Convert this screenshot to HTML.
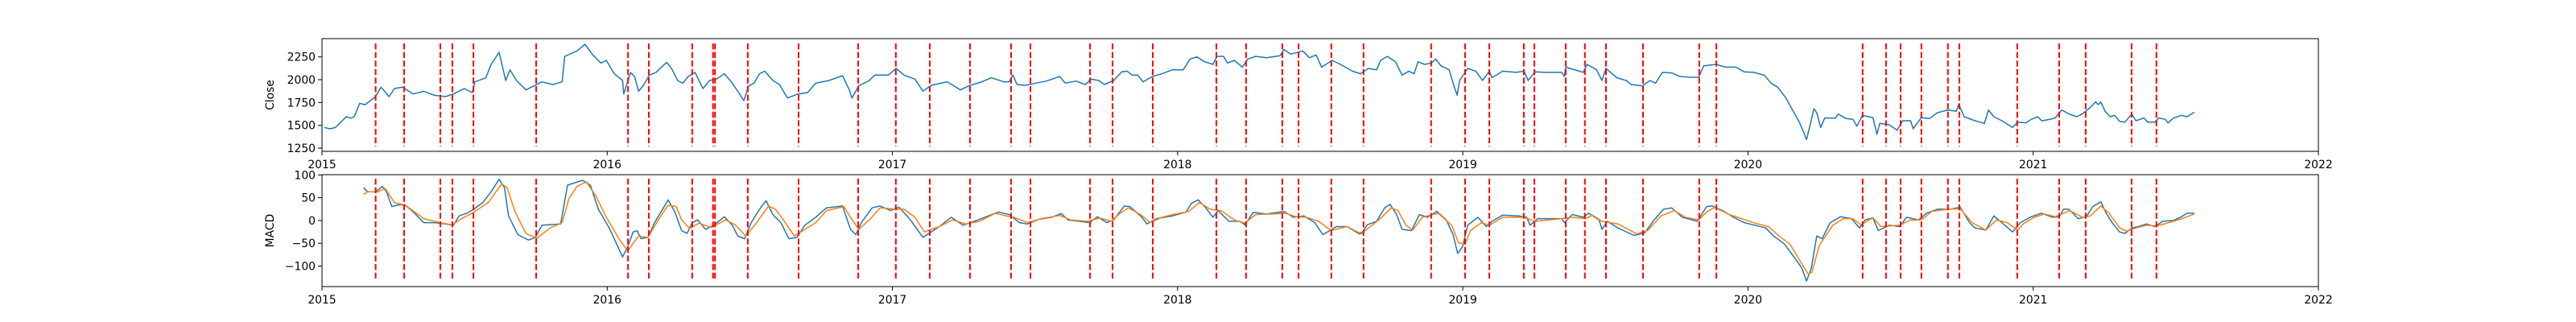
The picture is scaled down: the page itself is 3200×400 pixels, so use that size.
<!DOCTYPE html>
<html><head><meta charset="utf-8">
<style>
html,body{margin:0;padding:0;background:#fff;}
svg{display:block;font-family:"DejaVu Sans","Liberation Sans",sans-serif;}
</style></head>
<body>
<svg id="chart" width="3200" height="400" viewBox="0 0 3200 400" xmlns="http://www.w3.org/2000/svg"></svg>
<script>
// years since 2015-01-01
const closeT = [0.009,0.028,0.047,0.066,0.085,0.103,0.113,0.132,0.151,0.188,0.207,0.235,0.254,0.282,0.320,0.357,0.395,0.433,0.461,0.499,0.527,0.536,0.574,0.593,0.621,0.644,0.659,0.682,0.715,0.743,0.771,0.809,0.842,0.851,0.894,0.922,0.950,0.978,0.997,1.025,1.054,1.058,1.082,1.096,1.110,1.129,1.148,1.171,1.190,1.209,1.228,1.247,1.265,1.284,1.308,1.336,1.359,1.383,1.411,1.435,1.458,1.479,1.496,1.515,1.534,1.552,1.581,1.604,1.632,1.670,1.703,1.731,1.778,1.825,1.849,1.858,1.882,1.919,1.938,1.985,2.013,2.041,2.079,2.107,2.136,2.192,2.239,2.267,2.314,2.347,2.390,2.409,2.423,2.437,2.465,2.503,2.540,2.587,2.606,2.644,2.677,2.696,2.724,2.743,2.776,2.804,2.823,2.841,2.860,2.879,2.912,2.945,2.982,3.020,3.044,3.067,3.095,3.124,3.138,3.161,3.175,3.199,3.227,3.246,3.274,3.312,3.359,3.373,3.397,3.439,3.462,3.486,3.505,3.542,3.571,3.613,3.641,3.669,3.698,3.712,3.735,3.764,3.787,3.811,3.829,3.843,3.867,3.890,3.905,3.923,3.952,3.969,3.980,3.989,4.017,4.046,4.069,4.093,4.102,4.140,4.187,4.215,4.229,4.253,4.290,4.347,4.356,4.361,4.422,4.436,4.469,4.488,4.502,4.540,4.573,4.591,4.629,4.657,4.676,4.700,4.732,4.761,4.798,4.827,4.845,4.888,4.921,4.958,4.987,5.020,5.057,5.081,5.104,5.133,5.156,5.180,5.194,5.205,5.217,5.231,5.241,5.255,5.269,5.307,5.316,5.344,5.368,5.382,5.401,5.438,5.452,5.462,5.495,5.523,5.542,5.570,5.579,5.608,5.636,5.664,5.702,5.730,5.739,5.758,5.796,5.829,5.843,5.862,5.890,5.927,5.946,5.974,5.993,6.016,6.030,6.059,6.077,6.092,6.101,6.125,6.153,6.172,6.200,6.219,6.228,6.237,6.252,6.270,6.285,6.303,6.322,6.346,6.360,6.388,6.402,6.426,6.440,6.463,6.473,6.492,6.520,6.539,6.565];
const closeV = [1476,1462,1476,1535,1594,1579,1594,1741,1726,1815,1918,1815,1903,1918,1844,1873,1829,1815,1844,1903,1859,1976,2020,2168,2300,1991,2108,1991,1888,1932,1976,1947,1976,2256,2315,2388,2270,2182,2212,2065,1991,1844,2079,2035,1873,1947,2050,2080,2138,2191,2109,1991,1962,2035,2080,1903,1991,2006,2065,1977,1874,1771,1932,1962,2065,2094,1991,1947,1800,1844,1859,1962,1991,2044,1888,1800,1932,1991,2050,2050,2124,2050,2006,1874,1938,1977,1888,1932,1977,2021,1977,1977,2050,1947,1938,1962,1985,2035,1962,1985,1947,2006,1991,1947,1991,2086,2094,2050,2050,1977,2035,2065,2109,2109,2227,2250,2197,2168,2256,2256,2183,2212,2138,2227,2256,2241,2262,2330,2280,2315,2241,2271,2138,2212,2168,2094,2065,2124,2109,2212,2256,2197,2050,2094,2065,2197,2168,2183,2227,2153,2109,1932,1830,1991,2124,2094,1991,2094,2021,2094,2080,2094,1991,2086,2080,2080,2035,2138,2080,2168,2109,1991,2124,2021,1991,1947,1932,1991,1962,2080,2074,2035,2027,2027,2153,2168,2138,2138,2086,2080,2050,1962,1918,1800,1668,1535,1432,1344,1491,1682,1638,1476,1580,1580,1624,1574,1565,1491,1609,1585,1403,1521,1506,1447,1550,1550,1462,1585,1574,1638,1668,1653,1732,1594,1550,1521,1668,1594,1550,1477,1535,1527,1565,1594,1550,1565,1580,1638,1668,1624,1594,1624,1697,1756,1727,1756,1653,1594,1609,1544,1535,1624,1550,1580,1535,1535,1580,1565,1527,1580,1609,1594,1644];
const macdT = [0.146,0.160,0.188,0.212,0.226,0.245,0.273,0.292,0.320,0.357,0.395,0.433,0.461,0.480,0.508,0.532,0.564,0.593,0.621,0.640,0.654,0.687,0.724,0.748,0.771,0.837,0.861,0.913,0.941,0.969,1.007,1.054,1.072,1.091,1.105,1.119,1.143,1.166,1.214,1.237,1.261,1.280,1.298,1.317,1.345,1.374,1.411,1.439,1.458,1.482,1.505,1.534,1.557,1.581,1.609,1.637,1.665,1.693,1.731,1.769,1.825,1.853,1.872,1.891,1.929,1.957,1.994,2.023,2.060,2.107,2.136,2.173,2.206,2.248,2.286,2.324,2.371,2.409,2.446,2.474,2.512,2.559,2.592,2.616,2.653,2.691,2.719,2.752,2.776,2.813,2.832,2.870,2.893,2.926,2.982,3.030,3.048,3.072,3.095,3.124,3.142,3.180,3.218,3.236,3.265,3.312,3.373,3.406,3.443,3.481,3.509,3.557,3.594,3.637,3.646,3.665,3.698,3.726,3.745,3.768,3.787,3.820,3.848,3.876,3.909,3.942,3.966,3.982,3.999,4.017,4.053,4.083,4.102,4.140,4.196,4.224,4.236,4.262,4.347,4.356,4.384,4.422,4.441,4.478,4.488,4.507,4.544,4.601,4.638,4.667,4.704,4.732,4.770,4.822,4.855,4.874,4.911,4.949,4.987,5.025,5.062,5.090,5.128,5.166,5.189,5.205,5.222,5.241,5.260,5.288,5.325,5.363,5.391,5.410,5.438,5.457,5.495,5.532,5.556,5.598,5.626,5.664,5.711,5.744,5.777,5.796,5.834,5.862,5.890,5.928,5.955,5.993,6.030,6.068,6.092,6.106,6.125,6.158,6.186,6.209,6.237,6.256,6.280,6.303,6.322,6.346,6.369,6.397,6.426,6.454,6.492,6.520,6.539,6.565];
const macdV = [71.8,63,63,74.7,63,30.6,35,33.5,18.8,-4.7,-4.7,-7.6,-10.5,10,15.9,24.7,39.4,63,90.6,71.8,10,-31,-43,-37,-10.5,-7.6,77.6,88.2,77.6,24.7,-16.4,-80,-57.6,-25,-22.6,-40,-37,-4.7,45.3,18.8,-22.3,-28.2,-4.7,1.2,-19.4,-10.5,8.3,-10.5,-34,-40,-4.7,24.7,43.5,13,-4.7,-40,-37,-10.5,7.1,27.7,31.8,-19.4,-31,-4.7,27.7,31.8,21.8,29.4,4.1,-37,-25,-9.4,7.1,-10.5,-1.7,7.1,18.8,13,-4.7,-7.6,2.4,7.1,15.3,1.2,-1.7,-4.7,8.3,-4.7,1.2,31.8,30.6,10,-7.6,4.1,10,18.8,37.7,45.3,30.6,7.1,21.8,-1.7,-1.7,-9.4,17.7,14.1,20,7.1,10,-4.7,-31,-13.5,-13.5,-29.4,-28.2,-9.4,-1.7,27.7,35.3,13,-19.4,-22.3,13,7.1,20,1.2,-31,-72.3,-57.6,-10.5,7.1,-13.5,-1.7,11.8,10,7.1,-10.5,4.1,4.1,-4.7,13,7.1,15.9,1.2,-19.4,-1.7,-16.4,-32.9,-27,-1.7,24.7,27.7,7.1,-1.7,30.6,31.8,21.8,7.1,-4.7,-10.5,-16.4,-34,-51.8,-84,-104.6,-132.9,-104.6,-34,-40,-4.7,8.3,4.1,-16.4,1.2,5.8,-22.3,-10.5,-13.5,7.1,1.2,15.9,24.7,24.7,29.4,-4.7,-16.4,-21.1,10,-4.7,-25.3,-4.7,8.3,15.9,7.1,8.3,24.7,24.7,4.1,8.3,30.6,41.2,15.9,-7.6,-25.3,-28.2,-16.4,-13.5,-7.6,-13.5,-1.7,0,8.3,15.9,15.9];
const signalT = [0.146,0.160,0.198,0.221,0.254,0.292,0.357,0.414,0.456,0.489,0.527,0.583,0.630,0.649,0.677,0.715,0.753,0.800,0.842,0.866,0.894,0.927,0.960,0.997,1.044,1.072,1.110,1.143,1.185,1.214,1.242,1.261,1.289,1.322,1.364,1.416,1.449,1.486,1.524,1.566,1.590,1.618,1.656,1.693,1.731,1.769,1.830,1.853,1.882,1.919,1.957,2.013,2.041,2.079,2.112,2.164,2.211,2.258,2.305,2.361,2.399,2.427,2.474,2.521,2.587,2.625,2.681,2.728,2.766,2.799,2.827,2.870,2.903,2.945,2.992,3.039,3.077,3.114,3.152,3.199,3.236,3.274,3.331,3.378,3.415,3.453,3.495,3.538,3.594,3.637,3.651,3.688,3.716,3.749,3.773,3.801,3.825,3.858,3.895,3.914,3.961,3.985,4.008,4.027,4.065,4.093,4.140,4.215,4.253,4.347,4.384,4.431,4.455,4.488,4.516,4.544,4.610,4.648,4.695,4.742,4.780,4.827,4.855,4.883,4.930,4.977,5.025,5.072,5.109,5.147,5.184,5.211,5.224,5.250,5.297,5.335,5.368,5.396,5.438,5.466,5.532,5.570,5.608,5.645,5.702,5.744,5.786,5.834,5.871,5.909,5.946,5.965,6.003,6.040,6.078,6.106,6.129,6.172,6.200,6.237,6.266,6.303,6.327,6.360,6.397,6.435,6.492,6.529,6.565];
const signalV = [57,63,63,70.6,39.4,33.5,4.1,-4.7,-9.4,4.1,15.9,39.4,80.6,71.8,18.8,-28.2,-38.8,-16.4,-4.7,48.2,74.7,84.7,54,7.1,-43,-66.4,-34,-37,7.1,33.5,30.6,1.2,-17.6,-5.8,-15.3,1.2,-9.4,-34,-4.7,31.8,24.7,1.2,-34,-19.4,-4.7,21.8,30.6,7.1,-19.4,1.2,27.7,24.7,24.7,7.1,-25,-13.5,1.2,-7.6,-1.7,15.9,10,7.1,-4.7,4.1,11.2,1.2,-1.7,5.3,-1.7,15.9,27.7,13,-4.7,7.1,14.1,20,39.4,24.7,21.8,1.2,-5.8,13,14.1,15.9,8.3,7.1,-1.7,-22.3,-13.5,-27,-25.3,-7.6,7.1,27.7,21.8,-10.5,-21.1,7.1,13,15.9,-10.5,-48.8,-51.8,-22.3,-4.7,-10.5,7.1,7.1,-1.7,4.1,7.1,4.1,11.8,-1.7,-4.7,-7.6,-29.4,-22.3,10,21.8,7.1,1.2,18.8,28.9,14.1,4.1,-5.8,-13.5,-34,-51.8,-90,-117.6,-113.5,-54.7,-10.5,4.1,4.1,-9.4,5.8,-13.5,-10.5,1.2,1.2,20,24.7,25.9,-4.7,-21.1,1.2,-4.7,-21.1,-7.6,7.1,14.1,8.3,15.9,21.8,7.1,10,31.8,15.9,-16.4,-23.5,-16.4,-10.5,-11.8,-1.7,5.9,14.1];
const signalDates = [0.188,0.288,0.415,0.457,0.531,0.751,1.073,1.146,1.298,1.371,1.378,1.493,1.671,1.880,2.012,2.131,2.272,2.416,2.484,2.693,2.772,2.913,3.136,3.240,3.367,3.424,3.539,3.652,3.889,4.008,4.093,4.214,4.251,4.361,4.428,4.502,4.632,4.829,4.889,5.402,5.484,5.535,5.608,5.701,5.741,5.944,6.091,6.184,6.345,6.432];
const yearTicks = [2015,2016,2017,2018,2019,2020,2021,2022];
const closeTicks = [1250,1500,1750,2000,2250];
const macdTicks = [-100,-50,0,50,100];

const NS = "http://www.w3.org/2000/svg";
const svg = document.getElementById('chart');
const X0 = 400, X1 = 2880, T0 = 0, T1 = 7;
function xs(t){ return X0 + (t - T0) / (T1 - T0) * (X1 - X0); }
function mkY(top, bot, vmin, vmax){ return v => bot - (v - vmin) / (vmax - vmin) * (bot - top); }
const panels = [
  {name:'close-panel', top:48, bot:188, vmin:1215, vmax:2450, label:'Close', ticks:closeTicks, lineTop:54, lineBot:182},
  {name:'macd-panel', top:217, bot:356, vmin:-145, vmax:100.5, label:'MACD', ticks:macdTicks, lineTop:222, lineBot:349}
];
function el(tag, attrs, parent){
  const e = document.createElementNS(NS, tag);
  for (const k in attrs) e.setAttribute(k, attrs[k]);
  (parent || svg).appendChild(e);
  return e;
}
function pathFrom(ts, vs, ys){
  let d = '';
  for (let i = 0; i < ts.length; i++) d += (i ? 'L' : 'M') + xs(ts[i]).toFixed(1) + ',' + ys(vs[i]).toFixed(1);
  return d;
}
panels.forEach((p, pi) => {
  const g = el('g', {});
  
  
  const ys = mkY(p.top, p.bot, p.vmin, p.vmax);
  if (pi === 0) {
    const ln = el('path', {d: pathFrom(closeT, closeV, ys), fill:'none', stroke:'#1f77b4', 'stroke-width':1.5, 'stroke-linejoin':'round'}, g);
    
    
  } else {
    const ln = el('path', {d: pathFrom(macdT, macdV, ys), fill:'none', stroke:'#1f77b4', 'stroke-width':1.5, 'stroke-linejoin':'round'}, g);
    
    
    const sl = el('path', {d: pathFrom(signalT, signalV, ys), fill:'none', stroke:'#ff7f0e', 'stroke-width':1.5, 'stroke-linejoin':'round'}, g);
    
    
  }
  signalDates.forEach(t => {
    const v = el('line', {x1:xs(t), x2:xs(t), y1:p.lineTop, y2:p.lineBot, stroke:'#ff0000', 'stroke-width':2, 'stroke-dasharray':'7.4 3.2'}, g);
    
    
  });
  const fr = el('rect', {x:X0, y:p.top, width:X1-X0, height:p.bot-p.top, fill:'none', stroke:'#000', 'stroke-width':1}, g);
  
  
  p.ticks.forEach(v => {
    const y = ys(v);
    el('line', {x1:X0-5, x2:X0, y1:y, y2:y, stroke:'#000', 'stroke-width':1}, g);
    const tx = el('text', {x:X0-8, y:y+5, 'text-anchor':'end', 'font-size':'13.9px', fill:'#000'}, g);
    tx.textContent = String(v).replace('-', '\u2212');
    
    
  });
  yearTicks.forEach(yr => {
    const x = xs(yr - 2015);
    el('line', {x1:x, x2:x, y1:p.bot, y2:p.bot+5, stroke:'#000', 'stroke-width':1}, g);
    const tx = el('text', {x:x, y:p.bot+21, 'text-anchor':'middle', 'font-size':'13.9px', fill:'#000'}, g);
    tx.textContent = yr;
    
    
  });
  const cy = (p.top + p.bot) / 2;
  const lab = el('text', {x:0, y:0, transform:'translate(340,' + cy + ') rotate(-90)', 'text-anchor':'middle', 'font-size':'13.9px', fill:'#000'}, g);
  lab.textContent = p.label;
  
  
});
</script>
</body></html>
